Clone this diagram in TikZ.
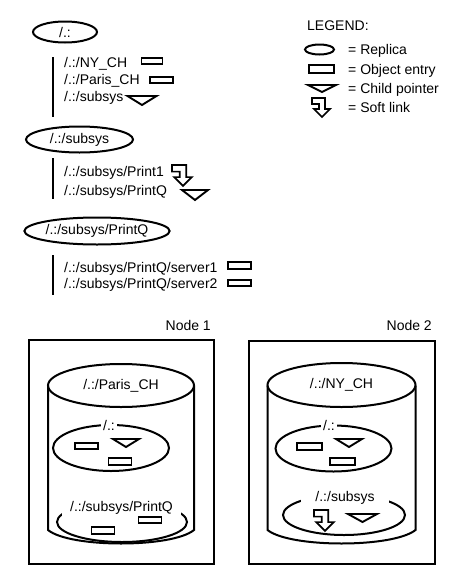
\documentclass[tikz,border=0pt]{standalone}
\usepackage{fontspec}
\setmainfont{Liberation Sans}
\usetikzlibrary{shapes.geometric}
\tikzset{
  every node/.style={font=\fontsize{14}{16}\selectfont},
  lbl/.style={anchor=base west, inner sep=0pt},
  replica/.style={draw, ellipse, line width=2pt, inner sep=0pt},
  objent/.style={draw, rectangle, line width=1.9pt, minimum width=23pt, minimum height=6.5pt, inner sep=0pt},
  gaplbl/.style={fill=white, anchor=base, inner ysep=3pt},
  frame/.style={draw, rectangle, line width=2pt, anchor=north west, inner sep=0pt},
  cyl/.style={line width=2pt},
  vline/.style={line width=1.9pt},
  pics/childptr/.style args={#1/#2}{code={
    \draw[line width=1.9pt, line join=miter] (-#1/2,0) -- (#1/2,0) -- (0,#2) -- cycle;}},
  pics/softlink/.style={code={
    \draw[line width=1.7pt, line join=miter] (0,0) -- (13,0) -- (13,11) -- (18,11) -- (10,19) -- (2,11) -- (7,11) -- (7,6) -- (0,6) -- cycle;}},
}
\begin{document}
\begin{tikzpicture}[x=1pt,y=-1pt]
\useasboundingbox (0,0) rectangle (462,576);

% ---- hierarchy ----
\node[replica, minimum width=64pt, minimum height=21pt] (r0) at (65,32) {/.:};
\coordinate (l1a) at (53,57); \coordinate (l1b) at (53,117);
\draw[vline] (l1a) -- (l1b);
\node[lbl] (t1) at (64,67) {/.:/NY\_CH};
\node[objent, minimum width=21pt] (o1) at (152,61) {};
\node[lbl] (t2) at (64,84) {/.:/Paris\_CH};
\node[objent] (o2) at (161.5,80) {};
\node[lbl] (t3) at (64,101) {/.:/subsys};
\pic at (142,96) {childptr={29/9}};

\node[replica, minimum width=107pt, minimum height=26pt] (r1) at (79.5,139.5) {/.:/subsys};
\coordinate (l2a) at (53,158); \coordinate (l2b) at (53,199);
\draw[vline] (l2a) -- (l2b);
\node[lbl] (t4) at (64,176) {/.:/subsys/Print1};
\pic[scale=1.1] at (172,165) {softlink};
\node[lbl] (t5) at (64,195) {/.:/subsys/PrintQ};
\pic at (195,190) {childptr={26/10}};

\node[replica, minimum width=144pt, minimum height=27pt] (r2) at (97,231) {/.:/subsys/PrintQ};
\coordinate (l3a) at (53,255); \coordinate (l3b) at (53,295);
\draw[vline] (l3a) -- (l3b);
\node[lbl] (t6) at (64,272) {/.:/subsys/PrintQ/server1};
\node[objent] (o3) at (239.5,265.5) {};
\node[lbl] (t7) at (64,288) {/.:/subsys/PrintQ/server2};
\node[objent] (o4) at (239.5,283) {};

% ---- legend ----
\node[lbl] (lg) at (307,30) {LEGEND:};
\node[replica, minimum width=29pt, minimum height=10pt] (lgr) at (319.5,49.5) {};
\node[lbl] (lg1) at (348,54) {= Replica};
\node[objent, minimum width=25pt, minimum height=8pt] (lgo) at (321.5,69) {};
\node[lbl] (lg2) at (348,74) {= Object entry};
\pic at (322,85) {childptr={28/7}};
\node[lbl] (lg3) at (348,93) {= Child pointer};
\pic at (312,98) {softlink};
\node[lbl] (lg4) at (348,112) {= Soft link};

% ---- Node 1 ----
\node[anchor=base east, inner sep=0pt] (n1l) at (211,330) {Node 1};
\node[frame, minimum width=185pt, minimum height=224pt] (n1) at (28,339) {};
\draw[cyl] (48,385.5) -- (48,530) .. controls (70,548) and (172,548) .. (194,530) -- (194,385.5);
\node[replica, minimum width=146pt, minimum height=43pt] (c1) at (121,385.5) {/.:/Paris\_CH};
\node[replica, minimum width=116pt, minimum height=46pt] (c1a) at (111,448) {};
\node[gaplbl, inner xsep=2.5pt] (c1al) at (109,430) {/.:};
\node[objent] (c1o1) at (86.5,446) {};
\pic at (126,439) {childptr={26/8}};
\node[objent] (c1o2) at (120,461.5) {};
\node[replica, minimum width=130pt, minimum height=40pt] (c1b) at (122,522) {};
\node[gaplbl, inner xsep=8pt] (c1bl) at (121.5,511) {/.:/subsys/PrintQ};
\node[objent] (c1o3) at (150,520) {};
\node[objent] (c1o4) at (103,530.5) {};

% ---- Node 2 ----
\node[anchor=base east, inner sep=0pt] (n2l) at (432,330) {Node 2};
\node[frame, minimum width=186pt, minimum height=223pt] (n2) at (248,340) {};
\draw[cyl] (267.5,385.5) -- (267.5,530) .. controls (290,548) and (393,548) .. (415.5,530) -- (415.5,385.5);
\node[replica, minimum width=148pt, minimum height=44pt] (c2) at (341.5,385) {/.:/NY\_CH};
\node[replica, minimum width=116pt, minimum height=46pt] (c2a) at (333.5,448.5) {};
\node[gaplbl, inner xsep=2.5pt] (c2al) at (329,430) {/.:};
\node[objent, minimum width=25pt] (c2o1) at (309.5,446.5) {};
\pic at (349,439) {childptr={26/8}};
\node[objent, minimum width=25pt] (c2o2) at (342.5,461.5) {};
\node[replica, minimum width=122pt, minimum height=40pt] (c2b) at (344,515) {};
\node[gaplbl, inner xsep=14pt] (c2bl) at (345,501) {/.:/subsys};
\pic[scale=1.1] at (314,510) {softlink};
\pic at (362.5,514) {childptr={29/8}};
\end{tikzpicture}
\end{document}
